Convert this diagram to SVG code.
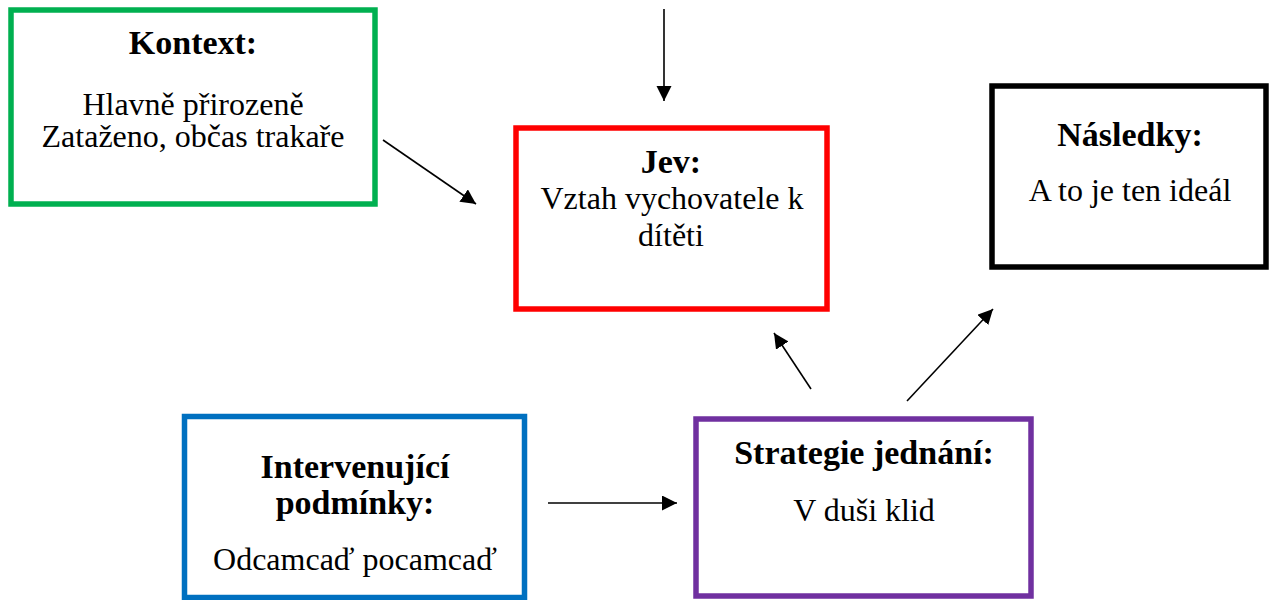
<svg xmlns="http://www.w3.org/2000/svg" width="1269" height="600" viewBox="0 0 1269 600">
<style>
  .box { fill: #fff; stroke-width: 5.5; }
  .t { font-family: "Liberation Serif", "Times New Roman", serif; font-weight: bold; font-size: 34px; text-anchor: middle; fill: #000; }
  .b { font-family: "Liberation Serif", "Times New Roman", serif; font-size: 32px; text-anchor: middle; fill: #000; }
  .c { stroke: #000; stroke-width: 1.6; fill: none; marker-end: url(#ah); }
</style>
<defs>
  <marker id="ah" markerUnits="userSpaceOnUse" markerWidth="16" markerHeight="16" refX="15" refY="7.5" orient="auto">
    <path d="M0,0 L15,7.5 L0,15 Z" fill="#000"/>
  </marker>
</defs>
<rect width="1269" height="600" fill="#fff"/>
<g id="kontext">
  <rect class="box" x="11" y="10" width="364" height="194" stroke="#00B050"/>
  <text class="t" x="193" y="54">Kontext:</text>
  <text class="b" x="193" y="115">Hlavně přirozeně</text>
  <text class="b" x="193" y="147">Zataženo, občas trakaře</text>
</g>
<g id="jev">
  <rect class="box" x="516" y="128" width="311" height="181" stroke="#FF0000"/>
  <text class="t" x="671" y="173">Jev:</text>
  <text class="b" x="672" y="209">Vztah vychovatele k</text>
  <text class="b" x="671" y="246">dítěti</text>
</g>
<g id="nasledky">
  <rect class="box" x="992" y="86" width="274" height="181" stroke="#000"/>
  <text class="t" x="1130" y="146">Následky:</text>
  <text class="b" x="1130" y="201">A to je ten ideál</text>
</g>
<g id="intervenujici">
  <rect class="box" x="184.5" y="416.5" width="340" height="181" stroke="#0070C0"/>
  <text class="t" x="355" y="478">Intervenující</text>
  <text class="t" x="355" y="514">podmínky:</text>
  <text class="b" x="355" y="570">Odcamcaď pocamcaď</text>
</g>
<g id="strategie">
  <rect class="box" x="696" y="419" width="335" height="177" stroke="#7030A0"/>
  <text class="t" x="864" y="464">Strategie jednání:</text>
  <text class="b" x="864" y="521">V duši klid</text>
</g>
<g id="connectors">
  <line class="c" x1="664" y1="9" x2="664" y2="101"/>
  <line class="c" x1="383" y1="140" x2="476" y2="204"/>
  <line class="c" x1="811" y1="389" x2="774" y2="333"/>
  <line class="c" x1="907" y1="401" x2="993" y2="309"/>
  <line class="c" x1="548" y1="503" x2="677" y2="503"/>
</g>
</svg>
